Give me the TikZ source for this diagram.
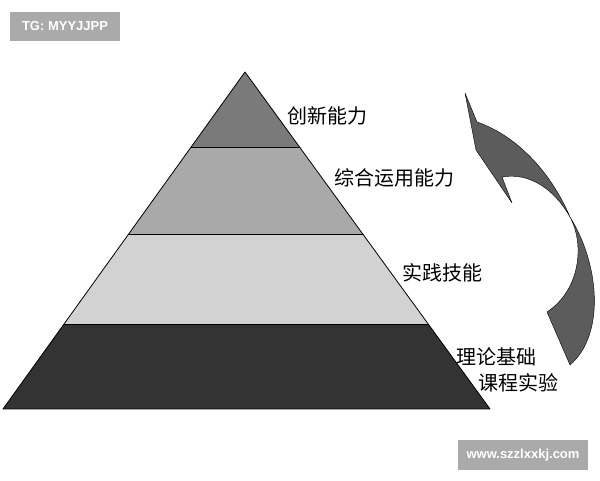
\documentclass[tikz,border=0pt]{standalone}
\usepackage{fontspec}
\setmainfont{Liberation Sans}
\newfontfamily\cjk{Noto Sans CJK SC}
\definecolor{bandA}{HTML}{7A7A7A}
\definecolor{bandB}{HTML}{A9A9A9}
\definecolor{bandC}{HTML}{D2D2D2}
\definecolor{bandD}{HTML}{333333}
\definecolor{arrowgray}{HTML}{5C5C5C}
\definecolor{badgegray}{HTML}{AAAAAA}
\begin{document}
\begin{tikzpicture}[x=1pt,y=-1pt,
		level/.style={anchor=west, inner sep=0pt, font=\cjk\fontsize{20}{24}\selectfont},
		badge/.style={fill=badgegray, text=white, inner sep=0pt, font=\bfseries\fontsize{13}{15}\selectfont}]
		\useasboundingbox (0,0) rectangle (600,480);

		% pyramid
		\coordinate (top) at (245,72);
		\coordinate (bl) at (3,409);
		\coordinate (br) at (490,409);
		\begin{scope}
			\clip (top) -- (br) -- (bl) -- cycle;
			\foreach \ya/\yb/\col in {72/147/bandA, 147/234/bandB, 234/324/bandC, 324/409/bandD}
				\fill[\col] (0,\ya) rectangle (600,\yb);
			\foreach \y in {147,234,324}
				\draw[thick] (0,\y) -- (600,\y);
		\end{scope}
		\draw[thick, line join=round] (top) -- (br) -- (bl) -- cycle;

		% labels
		\node[level] (innov) at (287,116) {创新能力};
		\node[level] (apply) at (334,178) {综合运用能力};
		\node[level] (skill) at (402,273) {实践技能};
		\node[level] (theory) at (456,357) {理论基础};
		\node[level] (lab) at (478,383) {课程实验};

		% twisted arrow
		\coordinate (tip) at (465,93);
		\coordinate (shoulder) at (477,122);
		\coordinate (cross) at (570,217);
		\coordinate (tailB) at (570,365);
		\coordinate (tailA) at (547,312);
		\coordinate (notch) at (502,177);
		\coordinate (barb) at (512,203);
		\coordinate (neck) at (476,150);
		\draw[fill=arrowgray, line join=round]
			(tip) -- (shoulder)
			.. controls (515,135) and (550,170) .. (cross)
			.. controls (600,265) and (605,335) .. (tailB)
			-- (tailA)
			.. controls (580,290) and (585,245) .. (cross)
			.. controls (555,190) and (530,172) .. (notch)
			-- (barb) -- (neck) -- cycle;

		% badges
		\node[badge, minimum width=110, minimum height=29] (tg) at (65,26) {TG: MYYJJPP};
		\node[badge, minimum width=130, minimum height=30] (site) at (523,455) {www.szzlxxkj.com};
	\end{tikzpicture}
\end{document}
